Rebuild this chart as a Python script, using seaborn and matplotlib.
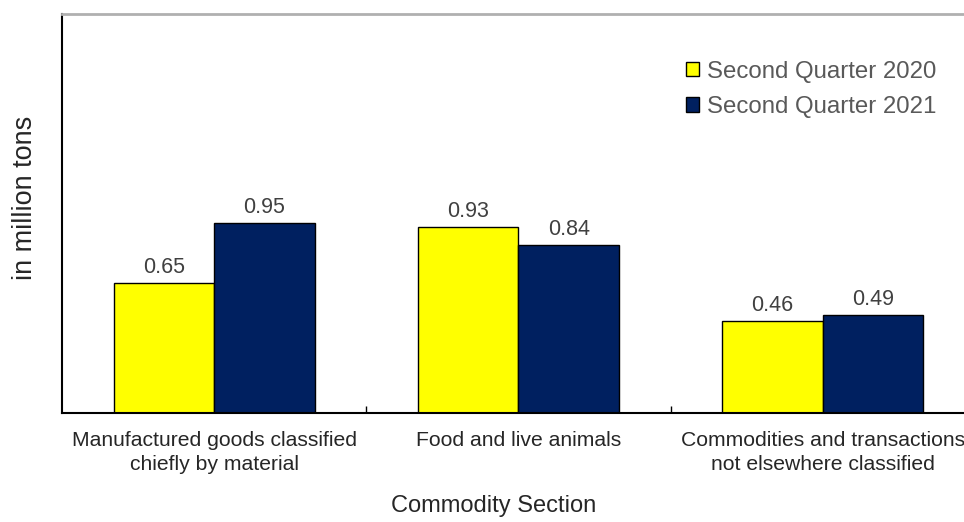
import pandas as pd
import seaborn as sns
import matplotlib.pyplot as plt

categories = ["Manufactured goods classified\nchiefly by material",
              "Food and live animals",
              "Commodities and transactions\nnot elsewhere classified"]
q2_2020 = [0.65, 0.93, 0.46]
q2_2021 = [0.95, 0.84, 0.49]
series = ["Second Quarter 2020", "Second Quarter 2021"]

df = pd.DataFrame({
    "section": categories * 2,
    "value": q2_2020 + q2_2021,
    "period": [series[0]] * 3 + [series[1]] * 3,
})

sns.set_style("white")
plt.rcParams["font.family"] = ["Liberation Sans", "DejaVu Sans"]

fig = plt.figure(figsize=(9.64, 5.22), dpi=100)
# axes run a bit past the right edge of the figure, like the original
ax = fig.add_axes([0.0643, 0.2088, 0.947, 0.7644])

sns.barplot(data=df, x="section", y="value", hue="period",
            palette=["#FFFF00", "#002060"], saturation=1, width=0.66,
            edgecolor="black", linewidth=1, ax=ax)

for cont in ax.containers:
    ax.bar_label(cont, fmt="%.2f", padding=4, fontsize=15.5, color="#404040")

ax.set_xlim(-0.5, 2.5)
ax.set_ylim(0, 2.0)
ax.set_yticks([])
ax.set_ylabel("in million tons", fontsize=19.5)
ax.yaxis.set_label_coords(-0.026, 0.54)
ax.set_xlabel("Commodity Section", fontsize=17)
ax.xaxis.set_label_coords(0.473, -0.206)
ax.set_xticks([0, 1, 2])
ax.set_xticklabels(categories, fontsize=15.2, linespacing=1.3)
ax.tick_params(axis="x", which="major", bottom=False, length=0, pad=13)

# small ticks between categories
ax.set_xticks([0.5, 1.5], minor=True)
ax.tick_params(axis="x", which="minor", bottom=True, length=5, width=1,
               direction="in", color="black")

for s in ["left", "bottom"]:
    ax.spines[s].set_color("black")
    ax.spines[s].set_linewidth(1.5)
ax.spines["top"].set_color("#b0b0b0")
ax.spines["top"].set_linewidth(2)
ax.spines["right"].set_visible(False)

ax.legend(loc="upper right", bbox_to_anchor=(0.981, 0.937), frameon=False,
          fontsize=17.3, handlelength=0.55, handleheight=0.55, handletextpad=0.3,
          labelspacing=0.55, labelcolor="#595959")

fig.savefig("out.png", dpi=100)
